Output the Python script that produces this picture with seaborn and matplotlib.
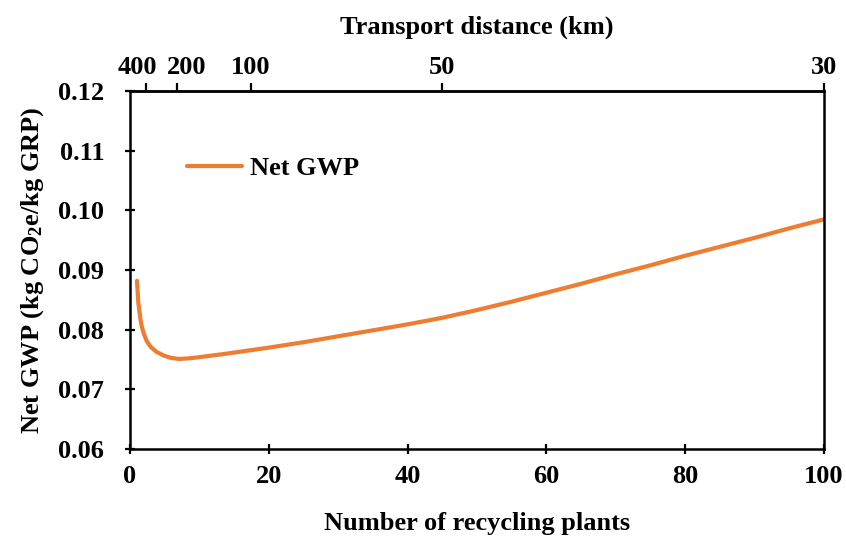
import matplotlib
matplotlib.use("Agg")
import matplotlib.pyplot as plt
import matplotlib.transforms as mtransforms
import seaborn as sns
import pandas as pd

# Net GWP against the number of recycling plants
plants = [1.0, 1.2, 1.5, 1.7, 2.0, 2.4, 3.0, 3.8, 4.8, 5.8, 7.0, 8.5, 10.0, 12.0,
          14.0, 17.0, 20.0, 25.0, 30.0, 35.0, 40.0, 45.0, 50.0, 55.0, 60.0,
          65.0, 70.0, 75.0, 80.0, 85.0, 90.0, 95.0, 100.0]
net_gwp = [0.0882, 0.0845, 0.0818, 0.0805, 0.0793, 0.0781, 0.0771, 0.0763,
           0.0757, 0.0753, 0.0751, 0.0752, 0.0754, 0.0757, 0.0760, 0.0765,
           0.0770, 0.0779, 0.0789, 0.0799, 0.0809, 0.0820, 0.0833, 0.0847,
           0.0862, 0.0877, 0.0893, 0.0908, 0.0924, 0.0939, 0.0954, 0.0970,
           0.0985]

# Secondary axis: transport distance corresponding to plant counts
distance_labels = ["400", "200", "100", "50", "30"]
distance_at_plants = [2.3, 6.8, 17.4, 44.9, 100.0]

x_ticks = [0, 20, 40, 60, 80, 100]
y_ticks = [0.06, 0.07, 0.08, 0.09, 0.10, 0.11, 0.12]

df = pd.DataFrame({"plants": plants, "gwp": net_gwp})

sns.set_theme(style="white")
plt.rcParams["font.family"] = ["Liberation Serif", "DejaVu Serif"]
plt.rcParams["font.weight"] = "bold"
plt.rcParams["text.color"] = "black"
plt.rcParams["axes.labelcolor"] = "black"
plt.rcParams["xtick.color"] = "black"
plt.rcParams["ytick.color"] = "black"
plt.rcParams["mathtext.fontset"] = "custom"
plt.rcParams["mathtext.rm"] = "Liberation Serif:bold"
plt.rcParams["mathtext.bf"] = "Liberation Serif:bold"
plt.rcParams["mathtext.it"] = "Liberation Serif:bold"
plt.rcParams["mathtext.default"] = "bf"

fs = 19

fig = plt.figure(figsize=(8.46, 5.36), dpi=100)
ax = fig.add_axes([0.1537, 0.1623, 0.8203, 0.6677])

sns.lineplot(data=df, x="plants", y="gwp", ax=ax, color="#ED7D31",
             linewidth=3.0, label="Net GWP")

ax.set_xlim(0, 100)
ax.set_ylim(0.06, 0.12)
ax.set_xticks(x_ticks)
ax.set_xticklabels([str(t) for t in x_ticks])
ax.set_yticks(y_ticks)
ax.set_yticklabels([f"{t:.2f}" for t in y_ticks])

ax.set_xlabel("Number of recycling plants", fontsize=fs, fontweight="bold", labelpad=17)
ax.set_ylabel(r"Net GWP (kg CO$_2$e/kg GRP)", fontsize=fs, fontweight="bold", labelpad=9)

for side in ["left", "right", "top", "bottom"]:
    ax.spines[side].set_visible(True)
    ax.spines[side].set_color("black")
    ax.spines[side].set_linewidth(1.8)

ax.tick_params(axis="both", which="major", direction="inout", length=7, width=1.6,
               color="black", labelsize=fs, labelcolor="black")
ax.tick_params(axis="y", pad=15)
ax.tick_params(axis="x", pad=8)
ax.tick_params(top=False, right=False, bottom=True, left=True)
for lab in ax.get_xticklabels() + ax.get_yticklabels():
    lab.set_fontweight("bold")

top = ax.secondary_xaxis("top")
top.set_xticks(distance_at_plants)
top.set_xticklabels(distance_labels)
top.tick_params(direction="out", length=6, width=1.6, pad=3, labelsize=fs,
                color="black", labelcolor="black")
top.spines["top"].set_linewidth(1.8)
for lab in top.get_xticklabels():
    lab.set_fontweight("bold")
top.set_xlabel("Transport distance (km)", fontsize=fs, fontweight="bold", labelpad=16)

# the two leftmost distance labels sit close together; nudge them apart
shifts = {"400": -9, "200": 9}
for lab in top.get_xticklabels():
    dx = shifts.get(lab.get_text(), 0)
    if dx:
        lab.set_transform(lab.get_transform() +
                          mtransforms.ScaledTranslation(dx / 100, 0, fig.dpi_scale_trans))

leg = ax.legend(loc="center left", bbox_to_anchor=(0.082, 0.785), frameon=False,
                prop={"family": "Liberation Serif", "weight": "bold", "size": fs},
                handlelength=2.1, handletextpad=0.3, borderpad=0, borderaxespad=0)

fig.savefig("out.png", dpi=100)
